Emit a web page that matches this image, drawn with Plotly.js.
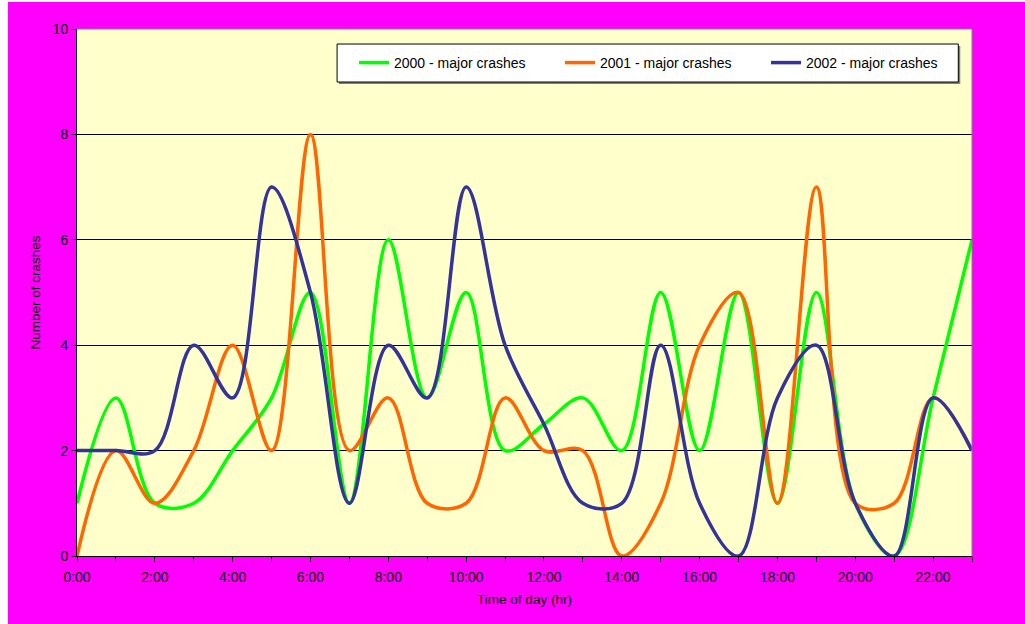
<!DOCTYPE html>
<html><head><meta charset="utf-8">
<script src="https://cdn.plot.ly/plotly-3.0.1.min.js"></script>
<style>
html,body{margin:0;padding:0;background:#ffffff;width:1025px;height:624px;overflow:hidden;}
#chart{position:absolute;left:8px;top:2px;width:1017px;height:622px;}
</style></head>
<body><div id="chart"></div>
<script>
const hours = [0,1,2,3,4,5,6,7,8,9,10,11,12,13,14,15,16,17,18,19,20,21,22,23];
const tickLabels = ["0:00","","2:00","","4:00","","6:00","","8:00","","10:00","","12:00","","14:00","","16:00","","18:00","","20:00","","22:00",""];
const crashes2000 = [1,3,1,1,2,3,5,1,6,3,5,2,2.5,3,2,5,2,5,1,5,1,0,3,6];
const crashes2001 = [0,2,1,2,4,2,8,2,3,1,1,3,2,2,0,1,4,5,1,7,1,1,3,2];
const crashes2002 = [2,2,2,4,3,7,5,1,4,3,7,4,2.5,1,1,4,1,0,3,4,1,0,3,2];
const seriesNames = ["2000 - major crashes","2001 - major crashes","2002 - major crashes"];
const seriesColors = ["#00FF00","#FF6600","#333399"];
const seriesData = [crashes2000, crashes2001, crashes2002];

const traces = seriesData.map((ys,i)=>({
  x: hours, y: ys, name: seriesNames[i], type:'scatter', mode:'lines',
  line:{color:seriesColors[i], width:3.5, shape:'spline', smoothing:1}
}));

const fam = '"Liberation Sans", Arial, sans-serif';
const tickFont = {family:fam, size:14, color:'#000'};
const titleFont = {family:fam, size:13.5, color:'#000'};
const layout = {
  width:1017, height:622,
  paper_bgcolor:'#FF00FF', plot_bgcolor:'#FFFFCC',
  margin:{l:69, r:53, t:27, b:68},
  font: tickFont,
  showlegend:true,
  legend:{orientation:'h', x:1.0, y:0.9355, xanchor:'right', yanchor:'middle',
    bgcolor:'rgba(0,0,0,0)', borderwidth:0,
    font:{family:fam, size:14, color:'#000'},
    entrywidth:161, entrywidthmode:'pixels', itemwidth:30},
  xaxis:{range:[0,23], tickvals:hours, ticktext:tickLabels, ticks:'outside', ticklen:5,
    tickcolor:'#000', showline:true, linecolor:'#000', linewidth:1, showgrid:false, zeroline:false,
    ticklabelstandoff:3,
    tickfont:tickFont, title:{text:'Time of day (hr)', font:titleFont, standoff:10}},
  yaxis:{range:[0,10], dtick:2, ticks:'outside', ticklen:5, tickcolor:'#000',
    showline:true, linecolor:'#000', linewidth:1, showgrid:true, gridcolor:'#000', gridwidth:1,
    zeroline:false, tickfont:tickFont, title:{text:'Number of crashes', font:titleFont, standoff:8}},
  shapes:[
    {type:'line', xref:'paper', yref:'paper', x0:0, x1:1, y0:1, y1:1, line:{color:'#808080', width:1}},
    {type:'line', xref:'paper', yref:'paper', x0:1, x1:1, y0:0, y1:1, line:{color:'#808080', width:1}},
    {type:'rect', xref:'paper', yref:'paper', x0:0.2926, x1:0.9869, y0:0.8956, y1:0.9677,
      fillcolor:'#808080', line:{width:0}},
    {type:'rect', xref:'paper', yref:'paper', x0:0.2906, x1:0.9847, y0:0.8994, y1:0.9715,
      fillcolor:'#FFFFFF', line:{color:'#000000', width:1}}
  ]
};
Plotly.newPlot('chart', traces, layout, {displayModeBar:false, staticPlot:true});
</script></body></html>
